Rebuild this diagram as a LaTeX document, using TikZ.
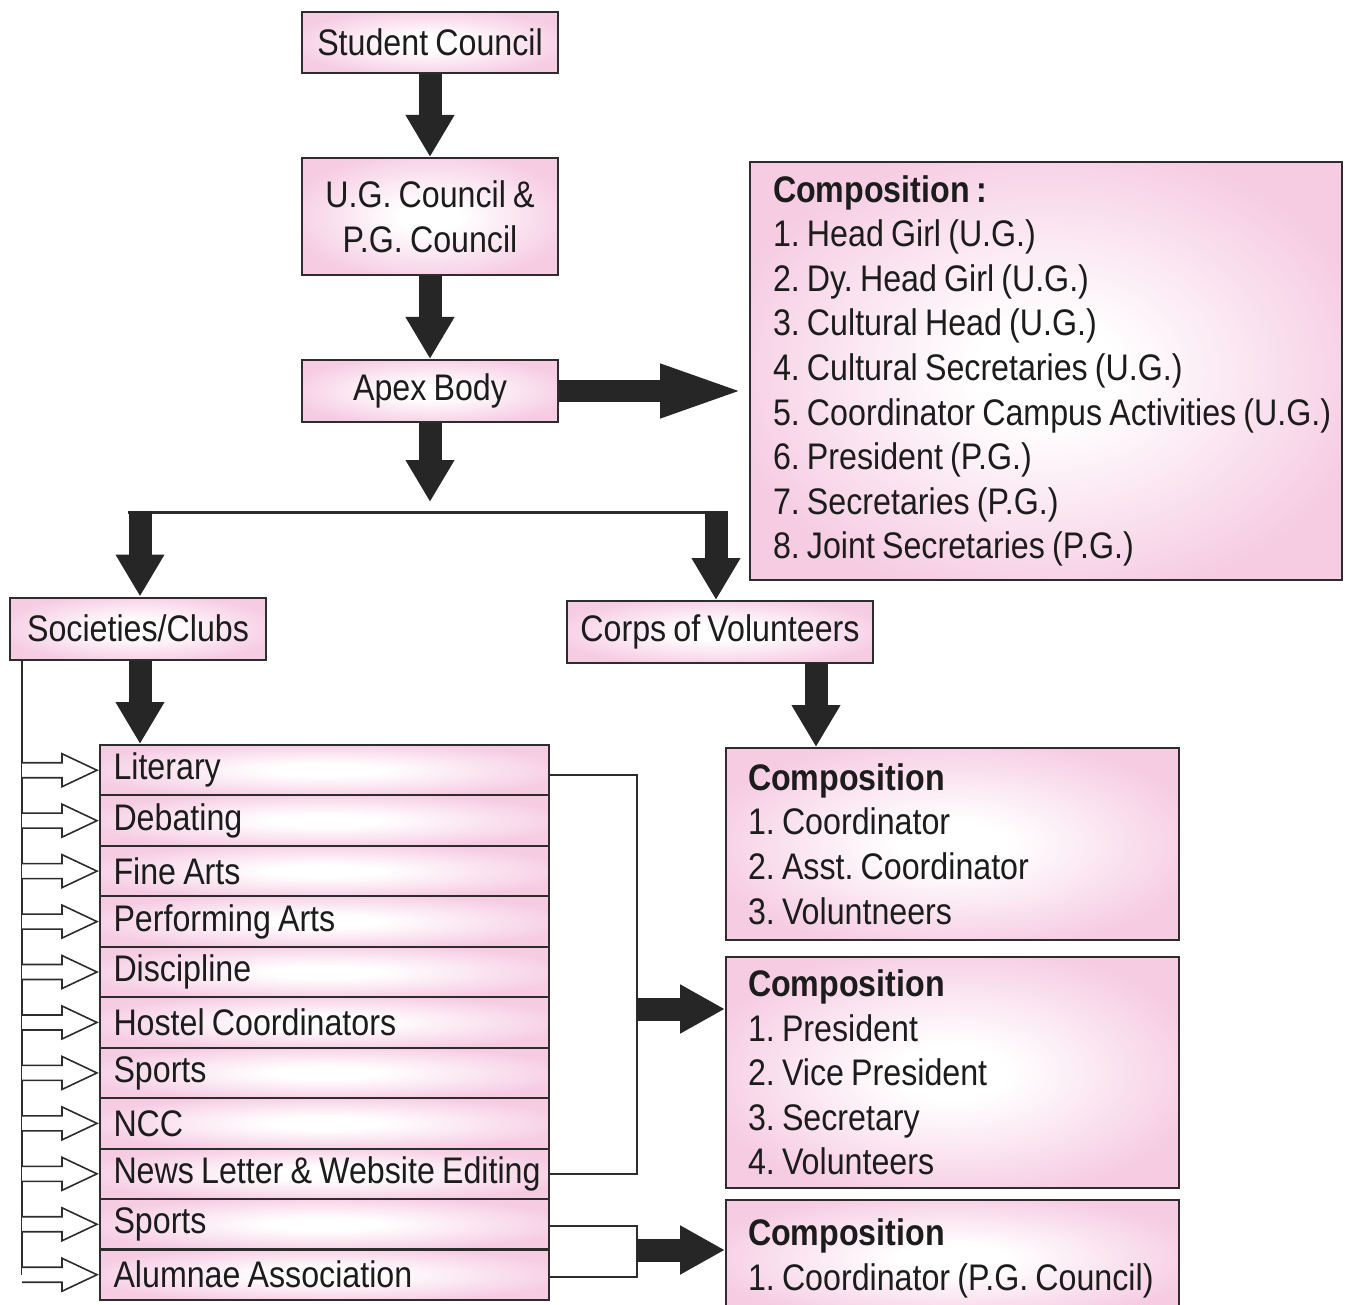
\documentclass[tikz,border=0pt]{standalone}
\usepackage{fontspec}
\setmainfont{Liberation Sans}[FakeStretch=0.87,WordSpace=0.8]
\usetikzlibrary{arrows.meta,calc}
\definecolor{pinkedge}{RGB}{246,204,227}
\definecolor{ink}{RGB}{28,28,28}
\definecolor{boxline}{RGB}{45,45,45}
\definecolor{arrowfill}{RGB}{38,38,38}
\pgfdeclareradialshading{pinkglow}{\pgfpoint{0bp}{0bp}}{color(0bp)=(white); color(6bp)=(white); color(28bp)=(pinkedge); color(50bp)=(pinkedge)}
\newcommand\tline[1]{\mbox{\spaceskip=0pt\xspaceskip=0pt\relax #1}}
\begin{document}
\begin{tikzpicture}[x=0.5pt,y=-0.5pt,
  font=\fontsize{18.5}{22.3}\selectfont\frenchspacing, text=ink,
  pbox/.style={draw=boxline, line width=1pt, shading=pinkglow, inner sep=0pt},
  fat/.style={draw=arrowfill, line width=11.5pt, -{Triangle[width=23pt,length=21pt]}},
  fatwide/.style={draw=arrowfill, line width=11pt, -{Triangle[width=23.5pt,length=44pt]}},
  fatside/.style={draw=arrowfill, line width=11.5pt, -{Triangle[width=23pt,length=22.5pt]}},
  thinline/.style={draw=boxline, line width=1pt},
  hollow/.style={draw=boxline, line width=0.8pt, fill=white, line join=miter}]
\useasboundingbox (0,0) rectangle (1345,1305);
\clip (0,0) rectangle (1345,1305);

% top chain
\node[pbox, minimum width=128pt, minimum height=30.5pt] (sc) at (430,42.5) {Student Council};
\node[pbox, minimum width=128pt, minimum height=58.5pt, align=center] (ug) at (430,216.5) {\tline{U.G. Council \&}\\\tline{P.G. Council}};
\node[pbox, minimum width=128pt, minimum height=31pt] (apex) at (430,391) {Apex Body};

% big composition box
\node[pbox, minimum width=296pt, minimum height=209pt, text width=273pt, align=left] (comp1) at (1046,371)
 {\tline{\textbf{Composition :}}\\
  \tline{1. Head Girl (U.G.)}\\
  \tline{2. Dy. Head Girl (U.G.)}\\
  \tline{3. Cultural Head (U.G.)}\\
  \tline{4. Cultural Secretaries (U.G.)}\\
  \tline{5. Coordinator Campus Activities (U.G.)}\\
  \tline{6. President (P.G.)}\\
  \tline{7. Secretaries (P.G.)}\\
  \tline{8. Joint Secretaries (P.G.)}};

% second level
\node[pbox, minimum width=128pt, minimum height=31pt] (soc) at (138,628.5) {Societies/Clubs};
\node[pbox, minimum width=153pt, minimum height=31pt] (corps) at (720,632) {Corps of Volunteers};

% composition boxes on the right
\node[pbox, minimum width=226.5pt, minimum height=96pt, text width=204.5pt, align=left] (comp2) at (952.5,844)
 {\tline{\textbf{Composition}}\\
  \tline{1. Coordinator}\\
  \tline{2. Asst. Coordinator}\\
  \tline{3. Voluntneers}};
\node[pbox, minimum width=226.5pt, minimum height=115.5pt, text width=204.5pt, align=left] (comp3) at (952.5,1072.5)
 {\tline{\textbf{Composition}}\\
  \tline{1. President}\\
  \tline{2. Vice President}\\
  \tline{3. Secretary}\\
  \tline{4. Volunteers}};
\node[pbox, minimum width=226.5pt, minimum height=58.5pt, text width=204.5pt, align=left] (comp4) at (952.5,1258.5)
 {\tline{\textbf{Composition}}\\
  \tline{1. Coordinator (P.G. Council)}};

% list of societies
\foreach \lab [count=\i] in {Literary,Debating,Fine Arts,Performing Arts,Discipline,Hostel Coordinators,Sports,NCC,{News Letter \& Website Editing},Sports,Alumnae Association}{
  \node[pbox, minimum width=224.5pt, minimum height=25.2pt, text width=211pt, inner xsep=6.75pt, align=left]
    (r\i) at (324.5,{745+50.45*(\i-0.5)}) {\tline{\lab}};
}

% fat arrows of the top chain
\draw[fat] (sc) -- (ug);
\draw[fat] (ug) -- (apex);
\coordinate (split) at (430,502);
\draw[fat] (apex) -- (split);
\coordinate (apexTip) at (748,391);
\draw[fatwide] (apex.east) -- (apexTip);

% distribution bar
\coordinate (barL) at (128,512);
\coordinate (barR) at (727,512);
\draw[draw=boxline, line width=1.5pt] (barL) -- (barR);
\coordinate (socTop) at (140,511);
\coordinate (corpsTop) at (716,511);
\draw[fat] (socTop) -- (soc.north -| socTop);
\draw[fat] (corpsTop) -- (corps.north -| corpsTop);

% down from societies and corps
\draw[fat] (soc.south -| socTop) -- (r1.north -| socTop);
\coordinate (corpsDown) at (816,663);
\draw[fat] (corpsDown) -- (comp2.north -| corpsDown);

% left rail with hollow arrows
\coordinate (railTop) at (22,660);
\draw[thinline] (railTop) -- (railTop |- r11.west);
\foreach \i in {1,...,11}{
  \draw[hollow] ($(r\i.west)+(-77,-7.5)$) -- ($(r\i.west)+(-37,-7.5)$) -- ($(r\i.west)+(-37,-16.5)$)
     -- ($(r\i.west)+(-2,0)$) -- ($(r\i.west)+(-37,16.5)$) -- ($(r\i.west)+(-37,7.5)$)
     -- ($(r\i.west)+(-77,7.5)$);
}

% right brackets
\coordinate (br1) at (637,1009);
\draw[thinline] ($(r1.east)+(0,5)$) -| (br1) |- (r9.east);
\draw[fatside] (br1) -- (br1 -| comp3.west);
\coordinate (br2) at (637,1250);
\draw[thinline] ($(r10.east)+(0,2)$) -| (br2) |- ($(r11.east)+(0,2)$);
\draw[fatside] (br2) -- (br2 -| comp4.west);
\end{tikzpicture}
\end{document}
